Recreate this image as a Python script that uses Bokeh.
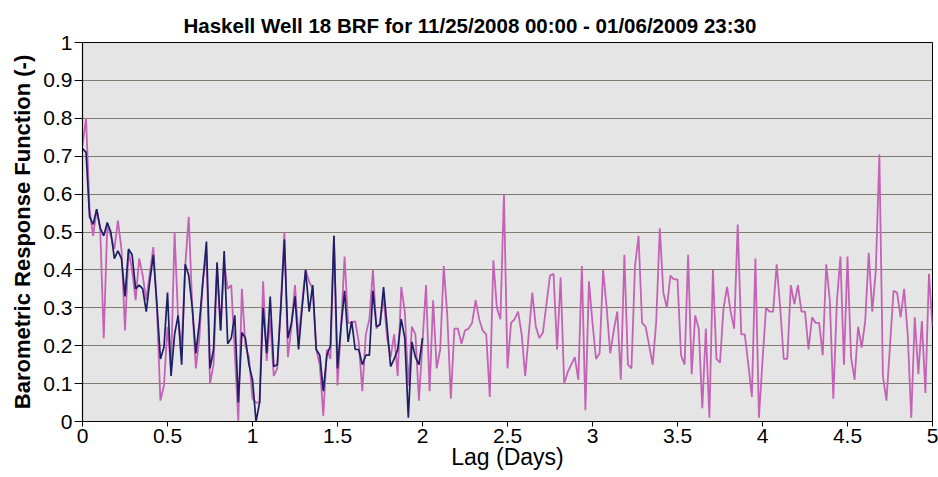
import numpy as np
from bokeh.plotting import figure
from bokeh.models import FixedTicker, CustomJSTickFormatter
from bokeh.embed import file_html
from bokeh.resources import INLINE

TITLE = "Haskell Well 18 BRF for 11/25/2008 00:00 - 01/06/2009 23:30"
X_LABEL = "Lag (Days)"
Y_LABEL = "Barometric Response Function (-)"

LAG_STEP_DAYS = 1.0 / 48.0  # 30-minute lag step

# BRF, lags 0 .. 5 days (pink series)
brf_5day = [
    0.73, 0.80, 0.56, 0.49, 0.56, 0.51, 0.22, 0.52, 0.49, 0.455,
    0.53, 0.455, 0.24, 0.45, 0.40, 0.32, 0.43, 0.385, 0.32, 0.39,
    0.46, 0.30, 0.055, 0.095, 0.25, 0.14, 0.50, 0.27, 0.20, 0.41,
    0.54, 0.30, 0.14, 0.22, 0.375, 0.44, 0.10, 0.15, 0.40, 0.24,
    0.42, 0.35, 0.36, 0.18, 0.00, 0.35, 0.20, 0.17, 0.06, 0.05,
    0.05, 0.37, 0.16, 0.27, 0.12, 0.14, 0.31, 0.50, 0.17, 0.25,
    0.36, 0.22, 0.31, 0.40, 0.37, 0.35, 0.19, 0.15, 0.015, 0.19,
    0.165, 0.49, 0.095, 0.25, 0.435, 0.26, 0.26, 0.265, 0.21, 0.08,
    0.23, 0.27, 0.40, 0.245, 0.26, 0.33, 0.22, 0.17, 0.23, 0.12,
    0.355, 0.29, 0.095, 0.25, 0.23, 0.055, 0.21, 0.36, 0.08, 0.32,
    0.14, 0.19, 0.41, 0.28, 0.06, 0.245, 0.245, 0.205, 0.24, 0.245,
    0.26, 0.32, 0.27, 0.24, 0.23, 0.065, 0.425, 0.30, 0.27, 0.60,
    0.14, 0.26, 0.27, 0.29, 0.23, 0.12, 0.23, 0.34, 0.25, 0.22,
    0.235, 0.31, 0.385, 0.39, 0.19, 0.38, 0.10, 0.13, 0.15, 0.17,
    0.11, 0.41, 0.03, 0.37, 0.26, 0.165, 0.18, 0.40, 0.30, 0.18,
    0.24, 0.29, 0.11, 0.44, 0.15, 0.14, 0.41, 0.49, 0.26, 0.25,
    0.20, 0.15, 0.265, 0.51, 0.34, 0.30, 0.385, 0.375, 0.375, 0.175,
    0.15, 0.44, 0.125, 0.28, 0.245, 0.035, 0.245, 0.01, 0.40, 0.165,
    0.155, 0.30, 0.355, 0.29, 0.245, 0.52, 0.23, 0.23, 0.15, 0.065,
    0.43, 0.01, 0.16, 0.30, 0.29, 0.29, 0.415, 0.30, 0.165, 0.165,
    0.36, 0.31, 0.36, 0.29, 0.29, 0.19, 0.275, 0.26, 0.26, 0.175,
    0.415, 0.32, 0.06, 0.315, 0.435, 0.15, 0.435, 0.17, 0.11, 0.25,
    0.195, 0.265, 0.445, 0.29, 0.40, 0.705, 0.12, 0.055, 0.20, 0.345,
    0.34, 0.275, 0.35, 0.23, 0.01, 0.275, 0.125, 0.265, 0.075, 0.39,
    0.25,
]

# BRF, lags 0 .. 2 days (navy series)
brf_2day = [
    0.72, 0.71, 0.54, 0.52, 0.56, 0.51, 0.49, 0.525, 0.50, 0.43,
    0.45, 0.43, 0.33, 0.455, 0.44, 0.35, 0.36, 0.35, 0.29, 0.37,
    0.44, 0.31, 0.165, 0.196, 0.34, 0.12, 0.23, 0.28, 0.15, 0.415,
    0.385, 0.30, 0.18, 0.26, 0.37, 0.475, 0.14, 0.19, 0.42, 0.24,
    0.45, 0.205, 0.22, 0.28, 0.05, 0.235, 0.22, 0.15, 0.11, 0.00,
    0.05, 0.30, 0.18, 0.33, 0.145, 0.15, 0.30, 0.48, 0.22, 0.26,
    0.33, 0.19, 0.30, 0.40, 0.29, 0.36, 0.19, 0.175, 0.08, 0.175,
    0.20, 0.49, 0.14, 0.25, 0.345, 0.21, 0.265, 0.19, 0.19, 0.15,
    0.175, 0.175, 0.345, 0.25, 0.255, 0.355, 0.25, 0.145, 0.165, 0.19,
    0.27, 0.22, 0.01, 0.21, 0.17, 0.15, 0.22,
]

x_ticks = [0, 0.5, 1, 1.5, 2, 2.5, 3, 3.5, 4, 4.5, 5]
y_ticks = [0, 0.1, 0.2, 0.3, 0.4, 0.5, 0.6, 0.7, 0.8, 0.9, 1]

lag_5day = [i * LAG_STEP_DAYS for i in range(len(brf_5day))]
lag_2day = [i * LAG_STEP_DAYS for i in range(len(brf_2day))]

FONT = "'Liberation Sans', Arial, sans-serif"

p = figure(
    frame_width=850, frame_height=379,
    x_range=(0, 5), y_range=(0, 1),
    output_backend="svg", toolbar_location=None,
    min_border_left=82, min_border_right=6,
    min_border_top=42, min_border_bottom=56,
    background_fill_color="#e5e5e5", border_fill_color="white",
    outline_line_color="black", outline_line_width=1,
)

p.title.text = TITLE
p.title.align = "left"
p.title.offset = 101
p.title.text_font = FONT
p.title.text_font_size = "20.5px"
p.title.text_font_style = "bold"
p.title.text_color = "black"
p.title.standoff = 12

p.line(lag_5day, brf_5day, line_color="#c462b6", line_width=1.8)
p.line(lag_2day, brf_2day, line_color="#1c1f66", line_width=1.7)

fmt = CustomJSTickFormatter(code="return String(Math.round(tick*10)/10);")

p.xaxis.ticker = FixedTicker(ticks=x_ticks)
p.yaxis.ticker = FixedTicker(ticks=y_ticks)
p.xaxis.formatter = fmt
p.yaxis.formatter = fmt

for ax in (p.xaxis, p.yaxis):
    ax.axis_line_color = "black"
    ax.axis_line_width = 1.2
    ax.major_tick_line_color = "black"
    ax.major_tick_in = 0
    ax.minor_tick_line_color = None
    ax.major_label_text_font = FONT
    ax.major_label_text_font_size = "21px"
    ax.major_label_text_color = "black"
    ax.axis_label_text_font = FONT
    ax.axis_label_text_color = "black"

p.xaxis.major_tick_out = 5
p.yaxis.major_tick_out = 8
p.xaxis.major_label_standoff = 2
p.yaxis.major_label_standoff = 2

p.xaxis.axis_label = X_LABEL
p.xaxis.axis_label_text_font_size = "23px"
p.xaxis.axis_label_text_font_style = "normal"
p.xaxis.axis_label_standoff = -2

p.yaxis.axis_label = Y_LABEL
p.yaxis.axis_label_text_font_size = "22px"
p.yaxis.axis_label_text_font_style = "bold"
p.yaxis.axis_label_standoff = 5

p.xgrid.visible = False
p.ygrid.grid_line_color = "#84796e"
p.ygrid.grid_line_width = 1

open("out.html", "w").write(file_html(p, INLINE))
